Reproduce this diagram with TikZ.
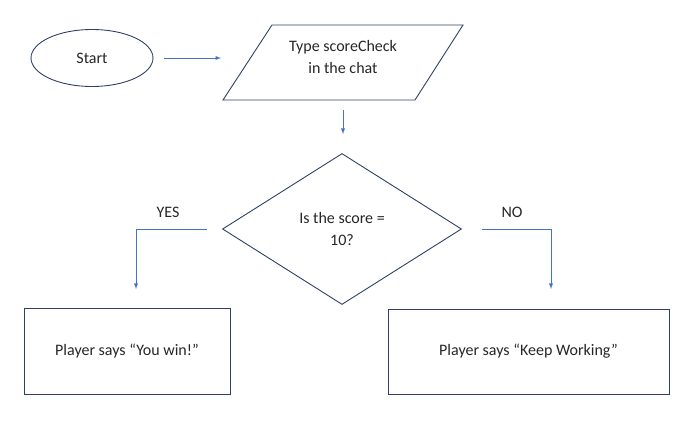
\documentclass[tikz,border=0pt]{standalone}
\usepackage{fontspec}
\setmainfont{Carlito}
\usetikzlibrary{shapes.geometric}
\definecolor{shapeline}{RGB}{47,64,104}
\definecolor{arrowblue}{RGB}{68,114,196}
\begin{document}
\begin{tikzpicture}[x=1pt,y=-1pt,
    outline/.style={draw=shapeline,line width=0.9pt},
    flow/.style={draw=arrowblue,line width=0.9pt,-latex},
    txt/.style={align=center,font=\fontsize{16}{22}\selectfont,text=black!85}]
    \useasboundingbox (0,0) rectangle (697,422);
    % start
    \node [outline,ellipse,minimum width=122pt,minimum height=57pt,txt] (start) at (92,58) {Start};
    % input
    \draw [outline] (272,25) -- (463,25) -- (415,100) -- (223,100) -- cycle;
    \node [txt] (type) at (343,57) {Type scoreCheck\\in the chat};
    \coordinate (arrA) at (164,58);
    \coordinate (arrB) at (221,58);
    \draw [flow] (arrA) -- (arrB);
    \coordinate (downA) at (343,110);
    \coordinate (downB) at (343,134);
    \draw [flow] (downA) -- (downB);
    % decision
    \node [outline,diamond,minimum width=239pt,minimum height=151pt,inner sep=0pt,txt] (check) at (342,229) {Is the score =\\10?};
    \coordinate (yesA) at (207,229);
    \coordinate (yesB) at (136,289);
    \draw [flow] (yesA) -| (yesB);
    \node [txt] (yes) at (168,212) {YES};
    \coordinate (noA) at (482,229);
    \coordinate (noB) at (551,289);
    \draw [flow] (noA) -| (noB);
    \node [txt] (no) at (512,212) {NO};
    % results
    \node [outline,minimum width=206pt,minimum height=86pt,txt] (win) at (127,351) {Player says “You win!”};
    \node [outline,minimum width=281pt,minimum height=85pt,txt] (work) at (528.5,351.5) {Player says “Keep Working”};
\end{tikzpicture}
\end{document}
